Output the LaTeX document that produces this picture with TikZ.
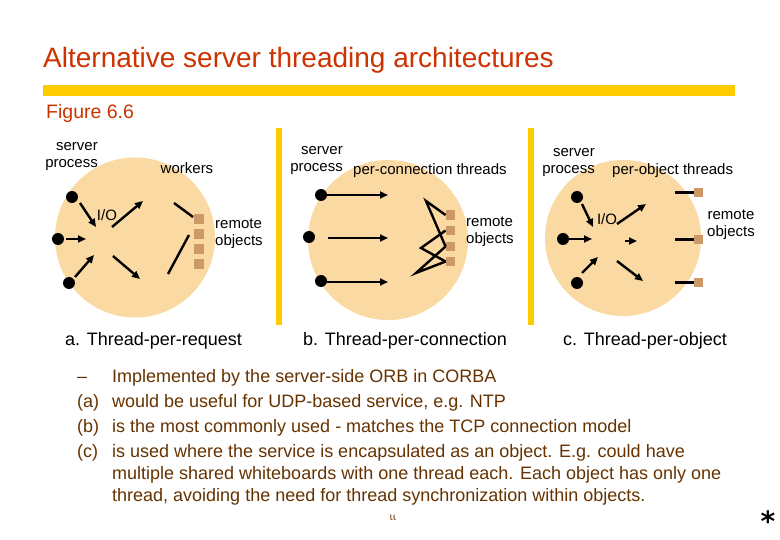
\documentclass[tikz,border=0pt]{standalone}
\usepackage{fontspec}
\setmainfont{Liberation Sans}
\newfontfamily\djv{DejaVu Sans}
\usetikzlibrary{arrows.meta}
\definecolor{titlered}{RGB}{204,51,0}
\definecolor{baryellow}{RGB}{252,204,0}
\definecolor{bodybrown}{RGB}{102,51,0}
\definecolor{peach}{RGB}{250,217,163}
\definecolor{objtan}{RGB}{204,153,102}
\begin{document}
\begin{tikzpicture}[x=1pt,y=-1pt,
 proc/.style={circle,fill=peach,draw=none,inner sep=0},
 dotnode/.style={circle,fill=black,minimum size=12pt,inner sep=0},
 obj/.style={rectangle,fill=objtan,minimum size=9.5pt,inner sep=0},
 thr/.style={line width=2.4pt,-{Triangle[length=8pt,width=7pt]}},
 lnk/.style={line width=2.4pt},
 lbl/.style={font=\fontsize{15}{17}\selectfont,inner sep=0},
 caplbl/.style={font=\fontsize{18}{22}\selectfont,inner sep=0,anchor=base west},
 body/.style={font=\fontsize{18}{22}\selectfont,text=bodybrown,inner sep=0,anchor=base west},
]
\useasboundingbox (0,0) rectangle (780,540);
\fill[white] (0,0) rectangle (780,540);

% header
\node[anchor=base west,text=titlered,font=\fontsize{28}{32}\selectfont,inner sep=0] (title) at (43,68) {Alternative server threading architectures};
\node[fill=baryellow,minimum width=692pt,minimum height=11pt,inner sep=0,anchor=north west] (bar) at (43,85) {};
\node[anchor=base west,text=titlered,font=\fontsize{19.5}{22}\selectfont,inner sep=0] (fig) at (46,119) {Figure 6.6};

% vertical separators
\node[fill=baryellow,minimum width=6pt,minimum height=197pt,inner sep=0,anchor=north west] (sep1) at (276,128) {};
\node[fill=baryellow,minimum width=6pt,minimum height=197pt,inner sep=0,anchor=north west] (sep2) at (528,128) {};

% ---------- panel a ----------
\node[proc,minimum size=160pt] (pa) at (135,237.5) {};
\node[lbl,align=right,anchor=east] (aserv) at (98,157) {server\\process};
\node[lbl] (awork) at (187,168) {workers};
\node[lbl,align=left,anchor=west] (arem) at (215,233.5) {remote\\objects};
\node[lbl] (aio) at (107,215) {I/O};
\node[dotnode] (a1) at (72,197) {};
\node[dotnode] (a2) at (58,239) {};
\node[dotnode] (a3) at (69,283) {};
\foreach \i/\y in {1/219,2/234,3/249,4/264} \node[obj] (ao\i) at (199,\y) {};
\coordinate (aa1s) at (80,203);  \coordinate (aa1e) at (96,227);
\coordinate (aa2s) at (66,239);  \coordinate (aa2e) at (86,239);
\coordinate (aa3s) at (75,277);  \coordinate (aa3e) at (94,255);
\coordinate (ab1s) at (112,227); \coordinate (ab1e) at (143,201);
\coordinate (ab2s) at (113,256); \coordinate (ab2e) at (140,279);
\coordinate (aw1) at (174,203);  \coordinate (aw1e) at (193,217);
\coordinate (aw2) at (168,274);  \coordinate (aw2e) at (189,235);
\draw[thr] (aa1s) -- (aa1e);
\draw[thr] (aa2s) -- (aa2e);
\draw[thr] (aa3s) -- (aa3e);
\draw[thr] (ab1s) -- (ab1e);
\draw[thr] (ab2s) -- (ab2e);
\draw[lnk] (aw1) -- (aw1e);
\draw[lnk] (aw2) -- (aw2e);
\node[caplbl] (capa) at (65,345) {a. Thread-per-request};

% ---------- panel b ----------
\node[proc,minimum size=160pt] (pb) at (388,240) {};
\node[lbl,align=right,anchor=east] (bserv) at (343,160.5) {server\\process};
\node[lbl,anchor=west] (bper) at (353,171) {per-connection threads};
\node[lbl,align=left,anchor=west] (brem) at (466,231.5) {remote\\objects};
\node[dotnode] (b1) at (321,195) {};
\node[dotnode] (b2) at (309,237) {};
\node[dotnode] (b3) at (321,281) {};
\foreach \i/\y in {1/215,2/230.5,3/246.5,4/261.5} \node[obj] (bo\i) at (450.5,\y) {};
\coordinate (ba1s) at (327,195); \coordinate (ba1e) at (388,195);
\coordinate (ba2s) at (328,238); \coordinate (ba2e) at (388,238);
\coordinate (ba3s) at (327,282); \coordinate (ba3e) at (388,282);
\draw[thr] (ba1s) -- (ba1e);
\draw[thr] (ba2s) -- (ba2e);
\draw[thr] (ba3s) -- (ba3e);
\coordinate (bA) at (426,201);
\coordinate (bB) at (421,248);
\coordinate (bC) at (416,273);
\draw[lnk,line join=miter] (bo1.west) -- (bA) -- (bo3.west);
\draw[lnk,line join=miter] (bo2.west) -- (bB) -- (bo4.west);
\draw[lnk,line join=miter] (bo3.west) -- (bC) -- (bo4.west);
\node[caplbl] (capb) at (303,345) {b. Thread-per-connection};

% ---------- panel c ----------
\node[proc,minimum size=156pt] (pc) at (623,238) {};
\node[lbl,align=right,anchor=east] (cserv) at (595,162.5) {server\\process};
\node[lbl,anchor=west] (cper) at (612,171) {per-object threads};
\node[lbl,align=center] (crem) at (731,224.5) {remote\\objects};
\node[lbl] (cio) at (607,219) {I/O};
\node[dotnode] (c1) at (577,197) {};
\node[dotnode] (c2) at (563,239) {};
\node[dotnode] (c3) at (577,283) {};
\foreach \i/\y in {1/192.5,2/239.5,3/282.5} \node[obj] (co\i) at (698.5,\y) {};
\coordinate (ca1s) at (582,204); \coordinate (ca1e) at (593,227);
\coordinate (ca2s) at (568,239); \coordinate (ca2e) at (592,239);
\coordinate (ca3s) at (582,273); \coordinate (ca3e) at (598,257);
\coordinate (cb1s) at (617,224); \coordinate (cb1e) at (646,204);
\coordinate (cb2s) at (625,241); \coordinate (cb2e) at (637,241);
\coordinate (cb3s) at (617,261); \coordinate (cb3e) at (643,281);
\draw[thr] (ca1s) -- (ca1e);
\draw[thr] (ca2s) -- (ca2e);
\draw[thr] (ca3s) -- (ca3e);
\draw[thr] (cb1s) -- (cb1e);
\draw[thr] (cb2s) -- (cb2e);
\draw[thr] (cb3s) -- (cb3e);
\coordinate (cw1) at (675,192.5);
\coordinate (cw2) at (675,239.5);
\coordinate (cw3) at (675,282.5);
\draw[lnk] (cw1) -- (co1.west);
\draw[lnk] (cw2) -- (co2.west);
\draw[lnk] (cw3) -- (co3.west);
\node[caplbl] (capc) at (563,345) {c. Thread-per-object};

% ---------- body text ----------
\node[body] (mdash) at (77,382) {–};
\node[body] (t1) at (112,382) {Implemented by the server-side ORB in CORBA};
\node[body] (ma) at (77,407) {(a)};
\node[body] (t2) at (112,407) {would be useful for UDP-based service, e.g. NTP};
\node[body] (mb) at (77,432) {(b)};
\node[body] (t3) at (112,432) {is the most commonly used - matches the TCP connection model};
\node[body] (mc) at (77,457) {(c)};
\node[body] (t4) at (112,457) {is used where the service is encapsulated as an object. E.g. could have};
\node[body] (t5) at (112,479) {multiple shared whiteboards with one thread each. Each object has only one};
\node[body] (t6) at (112,501) {thread, avoiding the need for thread synchronization within objects.};

\node[font=\djv\fontsize{10}{11}\selectfont,text=bodybrown,inner sep=0] (pg) at (393,518) {ιι};
\node[font=\djv\bfseries\fontsize{28}{30}\selectfont,inner sep=0,anchor=base] (star) at (768,531) {*};
\end{tikzpicture}
\end{document}
